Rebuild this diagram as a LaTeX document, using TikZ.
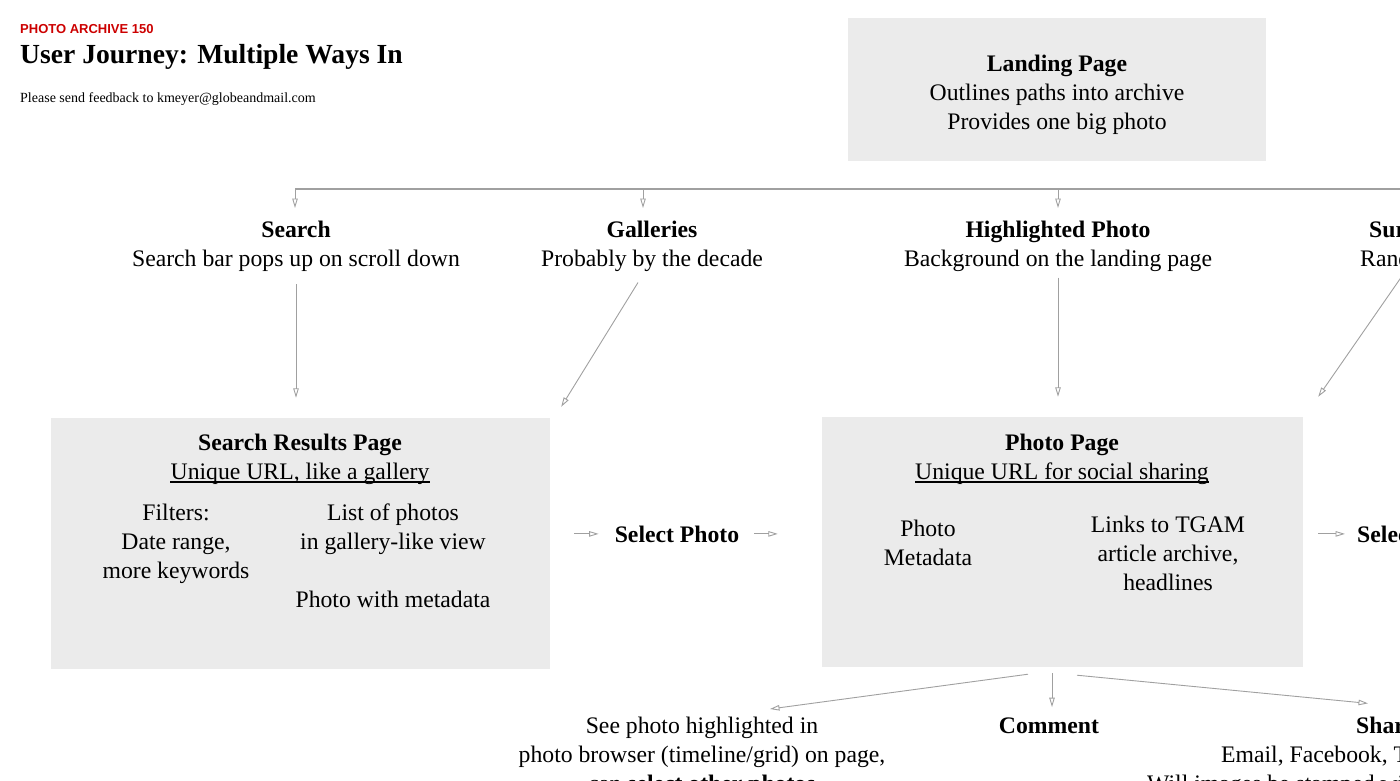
\documentclass[tikz,border=0pt]{standalone}
\usepackage{fontspec}
\setmainfont{Liberation Serif}
\setsansfont{Liberation Sans}
\usetikzlibrary{arrows.meta,calc}
\definecolor{boxgray}{HTML}{EBEBEB}
\definecolor{linegray}{HTML}{A0A0A0}
\definecolor{archred}{HTML}{CC0000}
\newcommand{\fl}{\rule{0pt}{17pt}}
\begin{document}
\begin{tikzpicture}[x=1pt,y=-1pt,
  box/.style={fill=boxgray, inner sep=0pt},
  txt/.style={font=\fontsize{23.7}{29}\selectfont, align=center, inner sep=0pt, anchor=north},
  ln/.style={font=\fontsize{23.7}{29}\selectfont, inner sep=0pt, anchor=base west},
  lnb/.style={font=\bfseries\fontsize{23.7}{29}\selectfont, inner sep=0pt, anchor=base west},
  arr/.style={draw=linegray, line width=0.9pt, -{Triangle[open,length=9.5pt,width=5.5pt]}},
  conn/.style={draw=linegray, line width=1.2pt}]
\useasboundingbox (0,0) rectangle (1400,780);
\clip (0,0) rectangle (1400,780);

% header
\node[anchor=base west, inner sep=0pt, text=archred, font=\sffamily\bfseries\fontsize{13}{15}\selectfont] (kicker) at (20,33) {PHOTO ARCHIVE 150};
\node[anchor=base west, inner sep=0pt, font=\bfseries\fontsize{27.6}{33}\selectfont] (title) at (20,63) {User Journey: Multiple Ways In};
\node[anchor=base west, inner sep=0pt, font=\fontsize{14}{17}\selectfont] (feedback) at (20,102) {Please send feedback to kmeyer@globeandmail.com};

% landing page
\node[box, minimum width=418pt, minimum height=143pt] (landing) at (1057,89.5) {};
\node[txt] (landingtext) at (1057,54) {\fl\textbf{Landing Page}\\Outlines paths into archive\\Provides one big photo};

% bus
\coordinate (j1) at (295,189);
\coordinate (j2) at (643,189);
\coordinate (j3) at (1058,189);
\coordinate (jend) at (1402,189);
\draw[conn] (j1) -- (jend);

% entry points
\node[txt] (search) at (296,220) {\fl\textbf{Search}\\Search bar pops up on scroll down};
\node[txt] (galleries) at (652,220) {\fl\textbf{Galleries}\\Probably by the decade};
\node[txt] (highlight) at (1058,220) {\fl\textbf{Highlighted Photo}\\Background on the landing page};
\node[lnb] (surprise) at (1369,237) {Surprise};
\node[ln] (random) at (1360,266) {Random};

\draw[arr, shorten >=12pt] (j1) -- (j1 |- search.north);
\draw[arr, shorten >=12pt] (j2) -- (j2 |- galleries.north);
\draw[arr, shorten >=12pt] (j3) -- (j3 |- highlight.north);

% search results page
\node[box, minimum width=499pt, minimum height=251pt] (srp) at (300.5,543.5) {};
\node[txt] (srptitle) at (300,433) {\fl\textbf{Search Results Page}};
\node[ln, anchor=base] (srpurl) at (300,479) {Unique URL, like a gallery};
\draw[line width=1.1pt] ([yshift=-3pt]srpurl.base west) -- ([yshift=-3pt]srpurl.base east);
\node[txt] (filters) at (176,503) {\fl Filters:\\Date range,\\more keywords};
\node[txt] (photolist) at (393,503) {\fl List of photos\\in gallery-like view\\[29pt]Photo with metadata};

% photo page
\node[box, minimum width=481pt, minimum height=250pt] (pp) at (1062.5,542) {};
\node[txt] (pptitle) at (1062,433) {\fl\textbf{Photo Page}};
\node[ln, anchor=base] (ppurl) at (1062,479) {Unique URL for social sharing};
\draw[line width=1.1pt] ([yshift=-3pt]ppurl.base west) -- ([yshift=-3pt]ppurl.base east);
\node[txt] (photometa) at (928,519) {\fl Photo\\Metadata};
\node[txt] (links) at (1168,515) {\fl Links to TGAM\\article archive,\\headlines};

% arrows into pages
\draw[arr, shorten <=13pt, shorten >=20pt] (search.south) -- (search.south |- srp.north);
\draw[arr] ([xshift=-14pt,yshift=-11pt]galleries.south) -- ([xshift=11pt,yshift=11pt]srp.north east);
\draw[arr, shorten <=6pt, shorten >=20pt] (highlight.south) -- (highlight.south |- pp.north);
\draw[arr] ([yshift=-12pt]random.south) -- ([xshift=15pt,yshift=20pt]pp.north east);

% select photo
\node[lnb, anchor=base] (select) at (677,542) {Select Photo};
\draw[arr, shorten <=24pt, shorten >=16pt] (srp.east |- select) -- (select.west);
\draw[arr, shorten <=15pt, shorten >=44pt] (select.east) -- (select.east -| pp.west);
\node[lnb] (select2) at (1357,542) {Select Photo};
\draw[arr, shorten <=15pt, shorten >=12pt] (pp.east |- select2) -- (select2.west);

% bottom row
\node[txt] (see) at (702,716) {\fl See photo highlighted in\\photo browser (timeline/grid) on page,\\can \textbf{select other photos}};
\node[lnb, anchor=base] (comment) at (1049,733) {Comment};
\node[lnb] (share) at (1356,733) {Share};
\node[ln] (email) at (1221,762) {Email, Facebook, Twitter};
\node[ln] (stamped) at (1147,791) {Will images be stamped with};

\draw[arr] ([xshift=-34.5pt,yshift=-7pt]pp.south) -- ([xshift=68pt,yshift=7pt]see.north);
\draw[arr] ([xshift=-10.5pt,yshift=-6pt]pp.south) -- ([xshift=3pt,yshift=10pt]comment.north);
\draw[arr] ([xshift=14.5pt,yshift=-8pt]pp.south) -- ([xshift=12pt,yshift=13pt]share.north west);
\end{tikzpicture}
\end{document}
